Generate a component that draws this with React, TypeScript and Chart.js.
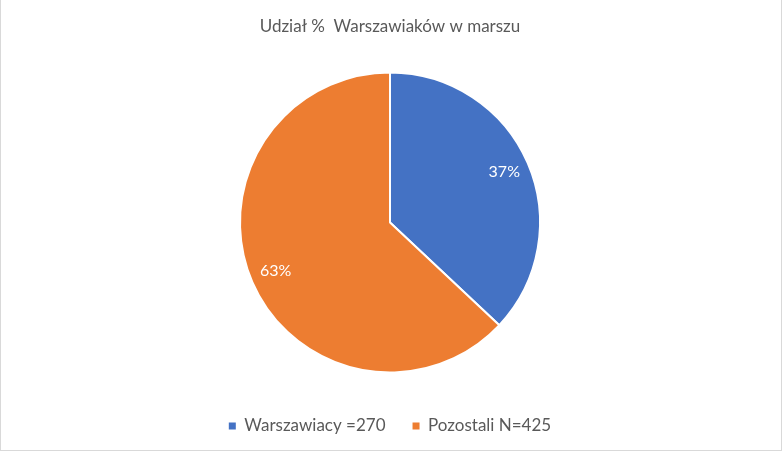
import { Chart, registerables } from 'chart.js';
import { useEffect, useRef } from 'react';

Chart.register(...registerables);

const title = 'Udział %  Warszawiaków w marszu';
const categories = ['Warszawiacy =270', 'Pozostali N=425'];
const shares = [37, 63];
const colors = ['#4472C4', '#ED7D31'];

const FONT = 'Lato, "Open Sans", sans-serif';

// white percentage labels inside the slices
const sliceLabels = {
	id: 'sliceLabels',
	afterDatasetsDraw(chart: any) {
		const ctx = chart.ctx;
		const meta = chart.getDatasetMeta(0);
		const data = chart.data.datasets[0].data as number[];
		const total = data.reduce((a, b) => a + b, 0);
		ctx.save();
		ctx.fillStyle = '#ffffff';
		ctx.font = '16px ' + FONT;
		ctx.textAlign = 'center';
		ctx.textBaseline = 'middle';
		meta.data.forEach((arc: any, i: number) => {
			const { x, y, startAngle, endAngle, outerRadius } = arc.getProps(
				['x', 'y', 'startAngle', 'endAngle', 'outerRadius'],
				true
			);
			const mid = (startAngle + endAngle) / 2;
			const r = outerRadius * 0.83;
			const pct = Math.round((data[i] / total) * 100) + '%';
			ctx.fillText(pct, x + Math.cos(mid) * r, y + Math.sin(mid) * r - 1);
		});
		ctx.restore();
	},
};

export default function App() {
	const ref = useRef<HTMLCanvasElement | null>(null);
	useEffect(() => {
		document.body.style.margin = '0';
		if (!ref.current) return;
		const chart = new Chart(ref.current, {
			type: 'pie',
			data: {
				labels: categories,
				datasets: [
					{
						data: shares,
						backgroundColor: colors,
						borderColor: '#ffffff',
						borderWidth: 2,
						radius: 150,
					},
				],
			},
			options: {
				animation: false,
				responsive: true,
				maintainAspectRatio: false,
				layout: { padding: { top: 0, right: 2, bottom: 5.5, left: 0 } },
				plugins: {
					title: {
						display: true,
						text: title,
						color: '#595959',
						font: { family: FONT, size: 17, weight: 'normal' },
						padding: { top: 16.8, bottom: 17.3 },
					},
					legend: {
						position: 'bottom',
						labels: {
							color: '#595959',
							font: { family: FONT, size: 17 },
							boxWidth: 7,
							boxHeight: 7,
							padding: 27,
							generateLabels: (c: any) =>
								Chart.overrides.pie.plugins.legend.labels
									.generateLabels(c)
									.map((item: any) => ({ ...item, lineWidth: 0, strokeStyle: item.fillStyle })),
						},
					},
					tooltip: { enabled: false },
				},
			},
			plugins: [sliceLabels],
		});
		return () => chart.destroy();
	}, []);

	return (
		<div
			style={{
				width: 782,
				height: 451,
				boxSizing: 'border-box',
				borderLeft: '1px solid #d9d9d9',
				borderRight: '1px solid #d9d9d9',
				borderBottom: '1px solid #d9d9d9',
				background: '#fff',
			}}
		>
			<div style={{ position: 'relative', width: 780, height: 450 }}>
				<canvas ref={ref}></canvas>
			</div>
		</div>
	);
}
